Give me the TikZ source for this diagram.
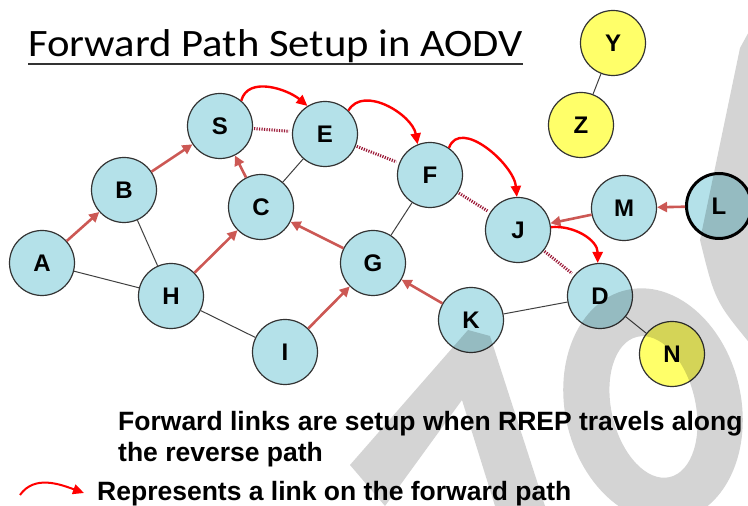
\documentclass[tikz,border=0pt]{standalone}
\usepackage{fontspec}
\setmainfont{Liberation Sans}
\newfontfamily\headfont[FakeStretch=1.1]{Carlito}
\usetikzlibrary{arrows.meta}
\definecolor{hostblue}{RGB}{180,225,233}
\definecolor{hostyellow}{RGB}{255,255,105}
\definecolor{revbrown}{RGB}{204,88,84}
\definecolor{revdots}{RGB}{155,25,55}
\definecolor{fwdred}{RGB}{255,0,0}

\begin{document}
\begin{tikzpicture}[x=1pt,y=1pt,
  host/.style={circle,draw=black!80,line width=1.2pt,fill=hostblue,minimum size=65pt,inner sep=0pt,font=\bfseries\fontsize{24}{24}\selectfont},
  outside/.style={host,fill=hostyellow},
  wire/.style={draw=black!75,line width=1pt},
  revlink/.style={draw=revbrown,line width=2.6pt,-{Triangle[length=10pt,width=10pt]}},
  revtrace/.style={draw=revdots,line width=3pt,dash pattern=on 1.2pt off 1.3pt,shorten >=3pt,shorten <=1pt},
  fwdlink/.style={draw=fwdred,line width=2.4pt,-{Triangle[length=11pt,width=10pt]}},
  note/.style={anchor=base west,inner sep=0pt,font=\bfseries\fontsize{26.5}{26.5}\selectfont},
  wmark/.style={fill=black,fill opacity=0.17}]
\useasboundingbox (0,0) rectangle (748,506);

\node[anchor=base west,inner sep=0pt,font=\headfont\fontsize{38.8}{38.8}\selectfont] (title) at (28,449) {Forward Path Setup in AODV};
\draw[black!80,line width=2pt] ([yshift=-7pt]title.base west) -- ([yshift=-7pt]title.base east);

\node[host] (S) at (220,380) {S};
\node[host] (E) at (325,372) {E};
\node[host] (B) at (124,316) {B};
\node[host] (C) at (261,299) {C};
\node[host] (A) at (42,243) {A};
\node[host] (H) at (171,210) {H};
\node[host] (G) at (373,243) {G};
\node[host] (F) at (430,331) {F};
\node[host] (J) at (518,276) {J};
\node[host] (M) at (624,298) {M};
\node[host,draw=black,line width=3pt] (L) at (719,300) {L};
\node[host] (D) at (600,210) {D};
\node[host] (K) at (471,186) {K};
\node[host] (I) at (285,154) {I};
\node[outside] (N) at (672,152) {N};
\node[outside] (Y) at (613,463) {Y};
\node[outside] (Z) at (581,381) {Z};

\draw[wire] (B) -- (H);
\draw[wire] (A) -- (H);
\draw[wire] (H) -- (I);
\draw[wire] (C) -- (E);
\draw[wire] (F) -- (G);
\draw[wire] (K) -- (D);
\draw[wire] (D) -- (N);
\draw[wire] (Y) -- (Z);

\draw[revlink] (A) -- (B);
\draw[revlink] (B) -- (S);
\draw[revlink] (C) -- (S);
\draw[revlink] (H) -- (C);
\draw[revlink] (G) -- (C);
\draw[revlink] (I) -- (G);
\draw[revlink] (K) -- (G);
\draw[revlink] (M) -- (J);
\draw[revlink] (L) -- (M);

\draw[revtrace] (S) -- (E);
\draw[revtrace] (E) -- (F);
\draw[revtrace] (F) -- (J);
\draw[revtrace] (J) -- (D);

\draw[fwdlink] (S.50) to[out=75,in=140] (E.122);
\draw[fwdlink] (E.45) to[out=60,in=100] (F.112);
\draw[fwdlink] (F.55) to[out=70,in=95] (J.92);
\draw[fwdlink] (J.5) to[out=5,in=90] (D.94);

\node[note] (line1) at (118,75) {Forward links are setup when RREP travels along};
\node[note] (line2) at (118,44) {the reverse path};
\coordinate (keyA) at (20,11);
\coordinate (keyB) at (84,13);
\draw[fwdlink,line width=2pt] (keyA) to[out=55,in=160] (keyB);
\node[note] (key) at (97,5) {Represents a link on the forward path};

\begin{scope}
\clip (0,0) rectangle (748,506);
\fill[wmark] (350,41) -- (468,176) -- (490,170) -- (545,0) -- (495,0) -- (462,106) -- (385,0) -- cycle;
\fill[wmark] (740,458) -- (752,480) -- (752,160) .. controls (715,205) .. (700,266) -- cycle;
\fill[wmark,even odd rule,rotate around={-77:(653,101)}] (653,101) ellipse [x radius=118,y radius=88] (655,101) ellipse [x radius=72,y radius=42];
\end{scope}
\end{tikzpicture}
\end{document}
